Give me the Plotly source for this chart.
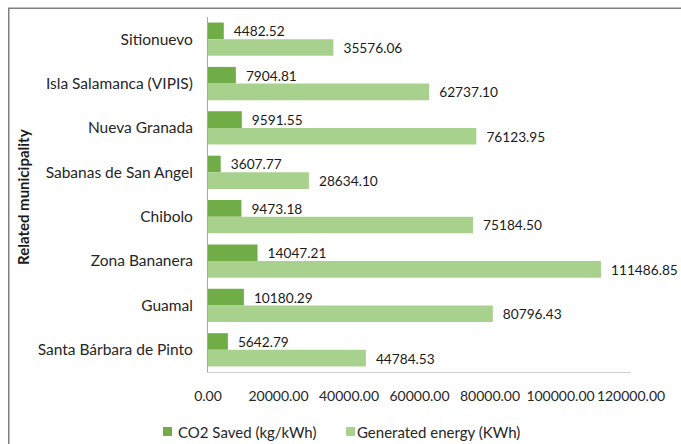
import plotly.graph_objects as go

municipalities = ["Sitionuevo", "Isla Salamanca (VIPIS)", "Nueva Granada",
                  "Sabanas de San Angel", "Chibolo", "Zona Bananera",
                  "Guamal", "Santa Bárbara de Pinto"]
co2_saved = [4482.52, 7904.81, 9591.55, 3607.77, 9473.18, 14047.21, 10180.29, 5642.79]
generated_energy = [35576.06, 62737.10, 76123.95, 28634.10, 75184.50, 111486.85, 80796.43, 44784.53]
x_ticks = [0, 20000, 40000, 60000, 80000, 100000, 120000]
series_names = ["CO2 Saved (kg/kWh)", "Generated energy (KWh)"]
series_colors = ["#70AD47", "#A9D18E"]

FONT = "Lato, 'Open Sans', sans-serif"
W, H = 681, 444
L, R, T, B = 208, 50, 17, 72
pw, ph = W - L - R, H - T - B

def px_x(p):
    return (p - L) / pw

def px_y(p):
    return (H - B - p) / ph

fig = go.Figure()
for vals, name, col in zip([co2_saved, generated_energy], series_names, series_colors):
    fig.add_trace(go.Bar(
        y=municipalities, x=vals, orientation="h", name=name,
        marker=dict(color=col, line=dict(width=0)),
        text=["\u00a0\u00a0" + f"{v:.2f}" for v in vals],
        textposition="outside", textfont=dict(size=14, color="#1a1a1a", family=FONT),
        cliponaxis=False, showlegend=False))

legend_items = [(163, 176), (346, 355)]
shapes = [dict(type="path", xref="paper", yref="paper",
               path=f"M {px_x(8.75)} {px_y(460)} L {px_x(8.75)} {px_y(8.25)} L {px_x(700)} {px_y(8.25)}",
               line=dict(color="#7f7f7f", width=1.5))]
annotations = [dict(text="<b>Related municipality</b>", xref="paper", yref="paper",
                    x=px_x(23), y=px_y(197), textangle=-90, showarrow=False,
                    font=dict(size=15, color="#1a1a1a"), xanchor="center", yanchor="middle")]
for (sx, tx), name, col in zip(legend_items, series_names, series_colors):
    shapes.append(dict(type="rect", xref="paper", yref="paper",
                       x0=px_x(sx), x1=px_x(sx + 9), y0=px_y(436), y1=px_y(427),
                       fillcolor=col, line=dict(width=0)))
    annotations.append(dict(text=name, xref="paper", yref="paper", x=px_x(tx), y=px_y(431.5),
                            xanchor="left", yanchor="middle", showarrow=False,
                            font=dict(size=15, color="#262626")))

fig.update_layout(
    width=W, height=H, barmode="group", bargap=0.25, bargroupgap=0,
    margin=dict(l=L, r=R, t=T, b=B, autoexpand=False),
    paper_bgcolor="white", plot_bgcolor="white",
    font=dict(family=FONT, size=14, color="#262626"),
    xaxis=dict(range=[0, 120000], tickvals=x_ticks, tickformat=".2f", tickangle=0,
               showgrid=False, zeroline=False, showline=True, linecolor="#d0d0d0",
               linewidth=1, ticks="", ticklabelstandoff=11, tickfont=dict(size=14, color="#262626")),
    yaxis=dict(autorange="reversed", showgrid=False, showline=True, linecolor="#a6a6a6",
               linewidth=1, ticks="", ticklabelstandoff=11, tickfont=dict(size=15.5, color="#262626")),
    showlegend=False,
    annotations=annotations,
    shapes=shapes,
)

fig.write_html("out.html", config={"displayModeBar": False},
               post_script="document.body.style.margin='0';document.body.style.overflow='hidden';")
